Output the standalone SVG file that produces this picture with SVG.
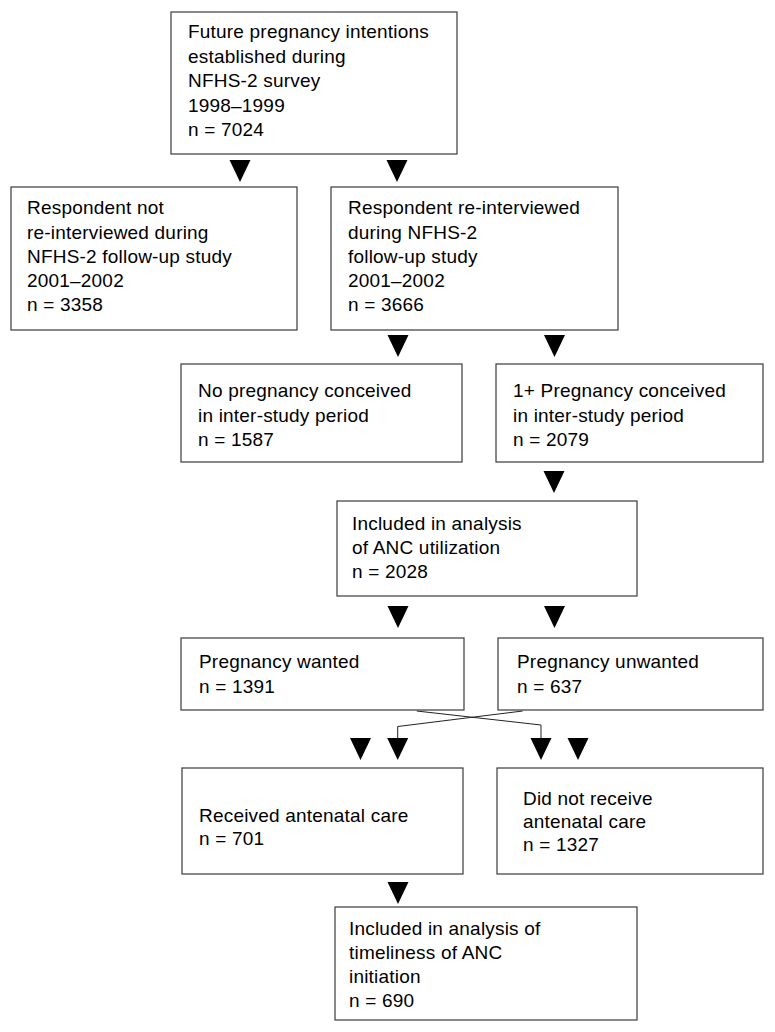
<svg xmlns="http://www.w3.org/2000/svg" xmlns:xlink="http://www.w3.org/1999/xlink" width="775" height="1032" viewBox="0 0 775 1032">
<style>
.box{fill:#fff;stroke:#3a3a3a;stroke-width:1.2}
.t{font-family:"Liberation Sans",Arial,sans-serif;font-size:19px;letter-spacing:0.2px;fill:#000}
.ln{fill:none;stroke:#222;stroke-width:1}
.ah{fill:#000}
</style>
<defs>
<path id="tri" d="M-10.5,0 L10.5,0 L0,22 Z"/>
</defs>
<rect width="775" height="1032" fill="#fff"/>
<g id="connectors">
<polyline class="ln" points="416.7,711 541,725 541,740"/>
<polyline class="ln" points="522.7,711 397.7,726.5 397.7,740"/>
<g class="ah">
<use xlink:href="#tri" x="240" y="160"/>
<use xlink:href="#tri" x="397" y="160"/>
<use xlink:href="#tri" x="398" y="335"/>
<use xlink:href="#tri" x="554.5" y="335"/>
<use xlink:href="#tri" x="554" y="471"/>
<use xlink:href="#tri" x="398" y="606"/>
<use xlink:href="#tri" x="554.5" y="606"/>
<use xlink:href="#tri" x="360.5" y="738"/>
<use xlink:href="#tri" x="397.7" y="738"/>
<use xlink:href="#tri" x="541" y="738"/>
<use xlink:href="#tri" x="578" y="738"/>
<use xlink:href="#tri" x="398" y="882"/>
</g>
</g>
<g id="n1">
<rect class="box" x="171" y="12" width="286" height="142"/>
<text class="t" x="188" y="38">Future pregnancy intentions</text>
<text class="t" x="188" y="62.5">established during</text>
<text class="t" x="188" y="87">NFHS-2 survey</text>
<text class="t" x="188" y="111.5">1998–1999</text>
<text class="t" x="188" y="135.5">n = 7024</text>
</g>
<g id="n2">
<rect class="box" x="11" y="187" width="286" height="143"/>
<text class="t" x="27" y="214">Respondent not</text>
<text class="t" x="27" y="238.5">re-interviewed during</text>
<text class="t" x="27" y="262.5">NFHS-2 follow-up study</text>
<text class="t" x="27" y="287">2001–2002</text>
<text class="t" x="27" y="311">n = 3358</text>
</g>
<g id="n3">
<rect class="box" x="331" y="187" width="287" height="143"/>
<text class="t" x="348" y="214">Respondent re-interviewed</text>
<text class="t" x="348" y="238.5">during NFHS-2</text>
<text class="t" x="348" y="262.5">follow-up study</text>
<text class="t" x="348" y="287">2001–2002</text>
<text class="t" x="348" y="311">n = 3666</text>
</g>
<g id="n4">
<rect class="box" x="181" y="364" width="281" height="98"/>
<text class="t" x="198" y="397">No pregnancy conceived</text>
<text class="t" x="198" y="421.5">in inter-study period</text>
<text class="t" x="198" y="446">n = 1587</text>
</g>
<g id="n5">
<rect class="box" x="496" y="364" width="267" height="98"/>
<text class="t" x="513" y="397">1+ Pregnancy conceived</text>
<text class="t" x="513" y="421.5">in inter-study period</text>
<text class="t" x="513" y="446">n = 2079</text>
</g>
<g id="n6">
<rect class="box" x="337" y="501" width="300" height="95"/>
<text class="t" x="352" y="530">Included in analysis</text>
<text class="t" x="352" y="554">of ANC utilization</text>
<text class="t" x="352" y="578">n = 2028</text>
</g>
<g id="n7">
<rect class="box" x="181" y="638" width="283" height="72"/>
<text class="t" x="199" y="668">Pregnancy wanted</text>
<text class="t" x="199" y="692.5">n = 1391</text>
</g>
<g id="n8">
<rect class="box" x="498" y="638" width="265" height="72"/>
<text class="t" x="517" y="668">Pregnancy unwanted</text>
<text class="t" x="517" y="692.5">n = 637</text>
</g>
<g id="n9">
<rect class="box" x="182" y="768" width="281" height="106"/>
<text class="t" x="199" y="821.5">Received antenatal care</text>
<text class="t" x="199" y="845">n = 701</text>
</g>
<g id="n10">
<rect class="box" x="497" y="768" width="266" height="106"/>
<text class="t" x="523" y="804.5">Did not receive</text>
<text class="t" x="523" y="828">antenatal care</text>
<text class="t" x="523" y="851">n = 1327</text>
</g>
<g id="n11">
<rect class="box" x="335" y="907" width="302" height="113"/>
<text class="t" x="349" y="935">Included in analysis of</text>
<text class="t" x="349" y="959">timeliness of ANC</text>
<text class="t" x="349" y="983">initiation</text>
<text class="t" x="349" y="1007">n = 690</text>
</g>
</svg>
